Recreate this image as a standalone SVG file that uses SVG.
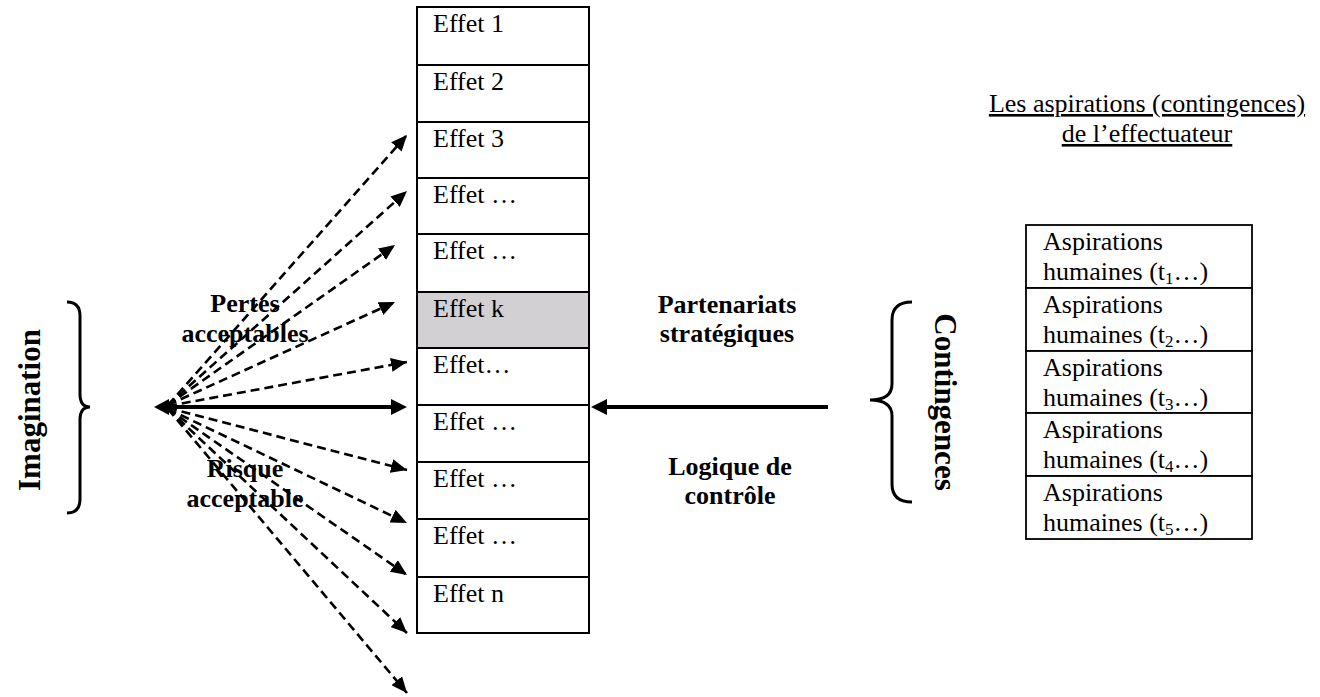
<svg xmlns="http://www.w3.org/2000/svg" width="1320" height="697" viewBox="0 0 1320 697">
<style>
  text { font-family: "Liberation Serif", "Times New Roman", serif; fill: #000; }
  .reg { font-size: 26px; }
  .bold { font-size: 26px; font-weight: bold; }
  .big { font-size: 31px; font-weight: bold; }
  .cell { fill: #fff; stroke: #000; stroke-width: 2; }
  .cellk { fill: #d2d0d2; stroke: #000; stroke-width: 2; }
  .tcell { fill: #fff; stroke: #000; stroke-width: 1.8; }
  .dash { stroke: #000; stroke-width: 2.6; stroke-dasharray: 9 5; fill: none; marker-end: url(#ah); }
  .solid { stroke: #000; stroke-width: 4; fill: none; }
  .brace { stroke: #000; stroke-width: 3; fill: none; }
  .mid { text-anchor: middle; }
</style>
<defs>
  <marker id="ah" viewBox="0 0 16 14" refX="16" refY="7" markerWidth="16" markerHeight="14" markerUnits="userSpaceOnUse" orient="auto">
    <path d="M0,0 L16,7 L0,14 z" fill="#000"/>
  </marker>
</defs>
<rect width="1320" height="697" fill="#fff"/>

<g id="effets">
  <g id="effet1"><rect class="cell" x="417" y="7" width="172" height="58"/><text class="reg" x="433" y="32">Effet 1</text></g>
  <g id="effet2"><rect class="cell" x="417" y="65" width="172" height="57"/><text class="reg" x="433" y="90">Effet 2</text></g>
  <g id="effet3"><rect class="cell" x="417" y="122" width="172" height="56"/><text class="reg" x="433" y="147">Effet 3</text></g>
  <g id="effet4"><rect class="cell" x="417" y="178" width="172" height="56"/><text class="reg" x="433" y="203">Effet …</text></g>
  <g id="effet5"><rect class="cell" x="417" y="234" width="172" height="58"/><text class="reg" x="433" y="259">Effet …</text></g>
  <g id="effetk"><rect class="cellk" x="417" y="292" width="172" height="56"/><text class="reg" x="433" y="317">Effet k</text></g>
  <g id="effet7"><rect class="cell" x="417" y="348" width="172" height="57"/><text class="reg" x="433" y="373">Effet…</text></g>
  <g id="effet8"><rect class="cell" x="417" y="405" width="172" height="57"/><text class="reg" x="433" y="430">Effet …</text></g>
  <g id="effet9"><rect class="cell" x="417" y="462" width="172" height="57"/><text class="reg" x="433" y="487">Effet …</text></g>
  <g id="effet10"><rect class="cell" x="417" y="519" width="172" height="58"/><text class="reg" x="433" y="544">Effet …</text></g>
  <g id="effetn"><rect class="cell" x="417" y="577" width="172" height="56"/><text class="reg" x="433" y="602">Effet n</text></g>
</g>

<g id="connectors">
  <line class="dash" x1="168" y1="405" x2="407" y2="135"/>
  <line class="dash" x1="168" y1="405" x2="407" y2="191"/>
  <line class="dash" x1="168" y1="405" x2="395" y2="245"/>
  <line class="dash" x1="168" y1="405" x2="395" y2="302"/>
  <line class="dash" x1="168" y1="406" x2="407" y2="362"/>
  <line class="dash" x1="168" y1="408" x2="407" y2="470"/>
  <line class="dash" x1="168" y1="409" x2="407" y2="523"/>
  <line class="dash" x1="168" y1="409" x2="407" y2="575"/>
  <line class="dash" x1="168" y1="409" x2="407" y2="633"/>
  <line class="dash" x1="168" y1="409" x2="407" y2="693"/>
  <line class="solid" x1="162" y1="407" x2="394" y2="407"/>
  <polygon points="407,407 391,399 391,415" fill="#000"/>
  <polygon points="154,407 169,399 169,415" fill="#000"/>
  <line class="solid" x1="828" y1="407" x2="604" y2="407"/>
  <polygon points="591,407 607,399 607,415" fill="#000"/>
</g>

<g id="imagination">
  <path class="brace" d="M67,302 Q80,302 80,316 L80,394 Q80,407 90,407 Q80,407 80,420 L80,499 Q80,513 67,513"/>
  <text class="big mid" transform="translate(40,410) rotate(-90)">Imagination</text>
</g>

<g id="contingences">
  <path class="brace" d="M912,302 Q892,302 892,320 L892,384 Q892,400 870,400 Q892,400 892,416 L892,484 Q892,502 912,502"/>
  <text class="big mid" transform="translate(935,402) rotate(90)">Contingences</text>
</g>

<g id="labels">
  <text class="bold mid" x="245" y="312">Pertes</text>
  <text class="bold mid" x="245" y="342">acceptables</text>
  <text class="bold mid" x="245" y="477">Risque</text>
  <text class="bold mid" x="245" y="507">acceptable</text>
  <text class="bold mid" x="727" y="313">Partenariats</text>
  <text class="bold mid" x="727" y="342">stratégiques</text>
  <text class="bold mid" x="730" y="475">Logique de</text>
  <text class="bold mid" x="730" y="504">contrôle</text>
</g>

<g id="titre">
  <text class="reg mid" x="1147" y="112" text-decoration="underline">Les aspirations (contingences)</text>
  <text class="reg mid" x="1147" y="142" text-decoration="underline">de l’effectuateur</text>
</g>

<g id="aspirations">
  <g id="asp1"><rect class="tcell" x="1026" y="225" width="226" height="63"/><text class="reg" x="1043" y="250">Aspirations</text><text class="reg" x="1043" y="280">humaines (t<tspan font-size="17" dy="4">1</tspan><tspan dy="-4">…)</tspan></text></g>
  <g id="asp2"><rect class="tcell" x="1026" y="288" width="226" height="63"/><text class="reg" x="1043" y="313">Aspirations</text><text class="reg" x="1043" y="343">humaines (t<tspan font-size="17" dy="4">2</tspan><tspan dy="-4">…)</tspan></text></g>
  <g id="asp3"><rect class="tcell" x="1026" y="351" width="226" height="62"/><text class="reg" x="1043" y="376">Aspirations</text><text class="reg" x="1043" y="406">humaines (t<tspan font-size="17" dy="4">3</tspan><tspan dy="-4">…)</tspan></text></g>
  <g id="asp4"><rect class="tcell" x="1026" y="413" width="226" height="63"/><text class="reg" x="1043" y="438">Aspirations</text><text class="reg" x="1043" y="468">humaines (t<tspan font-size="17" dy="4">4</tspan><tspan dy="-4">…)</tspan></text></g>
  <g id="asp5"><rect class="tcell" x="1026" y="476" width="226" height="63"/><text class="reg" x="1043" y="501">Aspirations</text><text class="reg" x="1043" y="531">humaines (t<tspan font-size="17" dy="4">5</tspan><tspan dy="-4">…)</tspan></text></g>
</g>
</svg>
